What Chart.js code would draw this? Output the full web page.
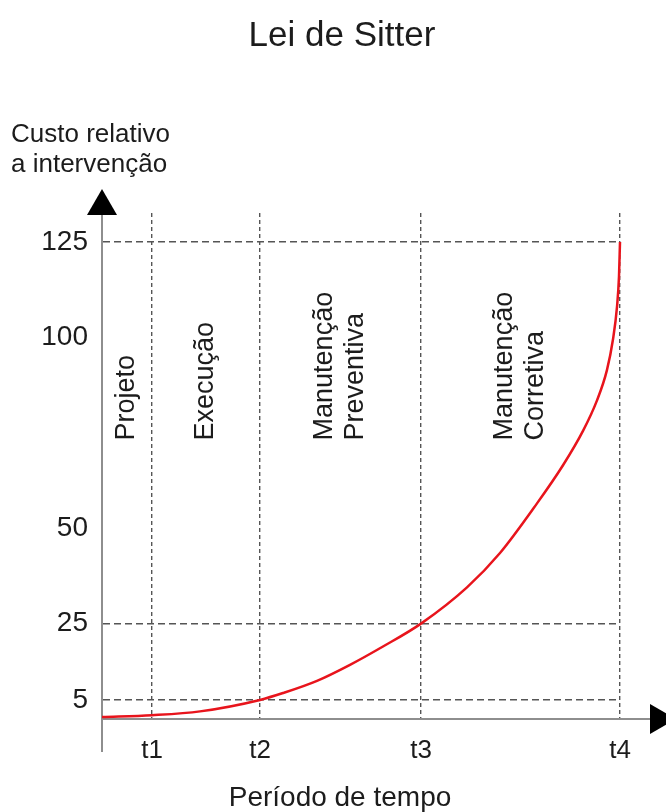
<!DOCTYPE html>
<html>
<head>
<meta charset="utf-8">
<script src="https://cdn.jsdelivr.net/npm/chart.js@4.4.1/dist/chart.umd.min.js"></script>
<style>
  html, body { margin: 0; background: #fff; }
  #wrap { width: 666px; height: 812px; }
</style>
</head>
<body>
<div id="wrap"><canvas id="chart"></canvas></div>
<script>
// text
const chartTitle = "Lei de Sitter";
const yTitleLines = ["Custo relativo", "a intervenção"];
const xTitle = "Período de tempo";

// x axis: time marks t1..t4
const timeMarks = [50, 158, 319, 518];
const timeLabels = ["t1", "t2", "t3", "t4"];

// y axis: cost ticks, and those that carry a dashed guide
const costTicks = [5, 25, 50, 100, 125];
const costGuides = [5, 25, 125];
const costMax = 132.6;

// phases between the time marks
const phaseNames = [["Projeto"], ["Execução"], ["Manutenção", "Preventiva"], ["Manutenção", "Corretiva"]];
const phaseLabelCost = 73;

// red cost curve
const curveTime = [0, 50, 98, 158, 181, 215, 248, 281, 319, 365, 398, 435, 461, 481, 495, 505, 511, 515, 517, 518];
const curveCost = [0.5, 1, 2, 5, 6.8, 10, 14.2, 19, 25, 34.5, 43.5, 56.5, 66.5, 75.5, 83.5, 91.5, 99.5, 108, 116, 125];

const FONT = '"Liberation Sans", Arial, sans-serif';
const textColor = "#1c1c1c";
const axisColor = "#8e8e8e";
const guideColor = "#555555";

Chart.defaults.font.family = FONT;
Chart.defaults.color = textColor;

const decorations = {
    id: "decorations",
    afterDraw(chart) {
        const ctx = chart.ctx;
        const { left, right, top, bottom } = chart.chartArea;
        const xs = chart.scales.x;
        const ys = chart.scales.y;
        ctx.save();

        // axis extensions
        ctx.strokeStyle = axisColor;
        ctx.lineWidth = 2;
        ctx.beginPath();
        ctx.moveTo(left, bottom);
        ctx.lineTo(left, bottom + 33);
        ctx.moveTo(right, bottom);
        ctx.lineTo(right + 32, bottom);
        ctx.stroke();

        // arrow heads
        ctx.fillStyle = "#000";
        ctx.beginPath();
        ctx.moveTo(left, top - 24);
        ctx.lineTo(left - 15, top + 2);
        ctx.lineTo(left + 15, top + 2);
        ctx.closePath();
        ctx.fill();
        ctx.beginPath();
        ctx.moveTo(right + 56, bottom);
        ctx.lineTo(right + 30, bottom - 15);
        ctx.lineTo(right + 30, bottom + 15);
        ctx.closePath();
        ctx.fill();

        // titles
        ctx.fillStyle = textColor;
        ctx.font = "35px " + FONT;
        ctx.textAlign = "center";
        ctx.textBaseline = "alphabetic";
        ctx.fillText(chartTitle, chart.width / 2 + 9, 46);

        ctx.font = "26px " + FONT;
        ctx.textAlign = "left";
        ctx.fillText(yTitleLines[0], 11, 142);
        ctx.fillText(yTitleLines[1], 11, 172);

        ctx.font = "28px " + FONT;
        ctx.textAlign = "center";
        ctx.fillText(xTitle, chart.width / 2 + 7, 806);

        // phase labels, rotated
        ctx.font = "27px " + FONT;
        ctx.textAlign = "left";
        ctx.textBaseline = "middle";
        const bounds = [0].concat(timeMarks);
        phaseNames.forEach((lines, i) => {
            const x = xs.getPixelForValue((bounds[i] + bounds[i + 1]) / 2);
            const y = ys.getPixelForValue(phaseLabelCost);
            ctx.save();
            ctx.translate(x, y);
            ctx.rotate(-Math.PI / 2);
            lines.forEach((line, j) => {
                ctx.fillText(line, 0, (j - (lines.length - 1) / 2) * 31);
            });
            ctx.restore();
        });

        ctx.restore();
    }
};

new Chart(document.getElementById("chart"), {
    type: "line",
    data: {
        datasets: [{
            data: curveTime.map((t, i) => ({ x: t, y: curveCost[i] })),
            borderColor: "#e8141c",
            borderWidth: 2.5,
            pointRadius: 0,
            cubicInterpolationMode: "monotone",
            clip: false
        }]
    },
    options: {
        responsive: true,
        maintainAspectRatio: false,
        animation: false,
        layout: {
            padding: { top: 213, right: 46, bottom: 0, left: 0 }
        },
        plugins: {
            legend: { display: false },
            title: { display: false },
            tooltip: { enabled: false }
        },
        scales: {
            x: {
                type: "linear",
                min: 0,
                max: timeMarks[timeMarks.length - 1],
                afterBuildTicks: scale => {
                    scale.ticks = timeMarks.map(v => ({ value: v }));
                },
                afterFit: scale => { scale.height = 93; },
                ticks: {
                    padding: 16,
                    font: { size: 26 },
                    color: textColor,
                    callback: (value, index) => timeLabels[index]
                },
                grid: {
                    color: guideColor,
                    lineWidth: 1.4,
                    drawTicks: false
                },
                border: {
                    display: true,
                    color: axisColor,
                    width: 2,
                    dash: [4, 3]
                }
            },
            y: {
                type: "linear",
                min: 0,
                max: costMax,
                afterBuildTicks: scale => {
                    scale.ticks = costTicks.map(v => ({ value: v }));
                },
                afterFit: scale => { scale.width = 102; },
                ticks: {
                    padding: 14,
                    font: { size: 28 },
                    color: textColor,
                    callback: value => String(value)
                },
                grid: {
                    color: ctx => costGuides.includes(ctx.tick && ctx.tick.value) ? guideColor : "rgba(0,0,0,0)",
                    lineWidth: 1.4,
                    drawTicks: false
                },
                border: {
                    display: true,
                    color: axisColor,
                    width: 2,
                    dash: [7, 4]
                }
            }
        }
    },
    plugins: [decorations]
});
</script>
</body>
</html>
